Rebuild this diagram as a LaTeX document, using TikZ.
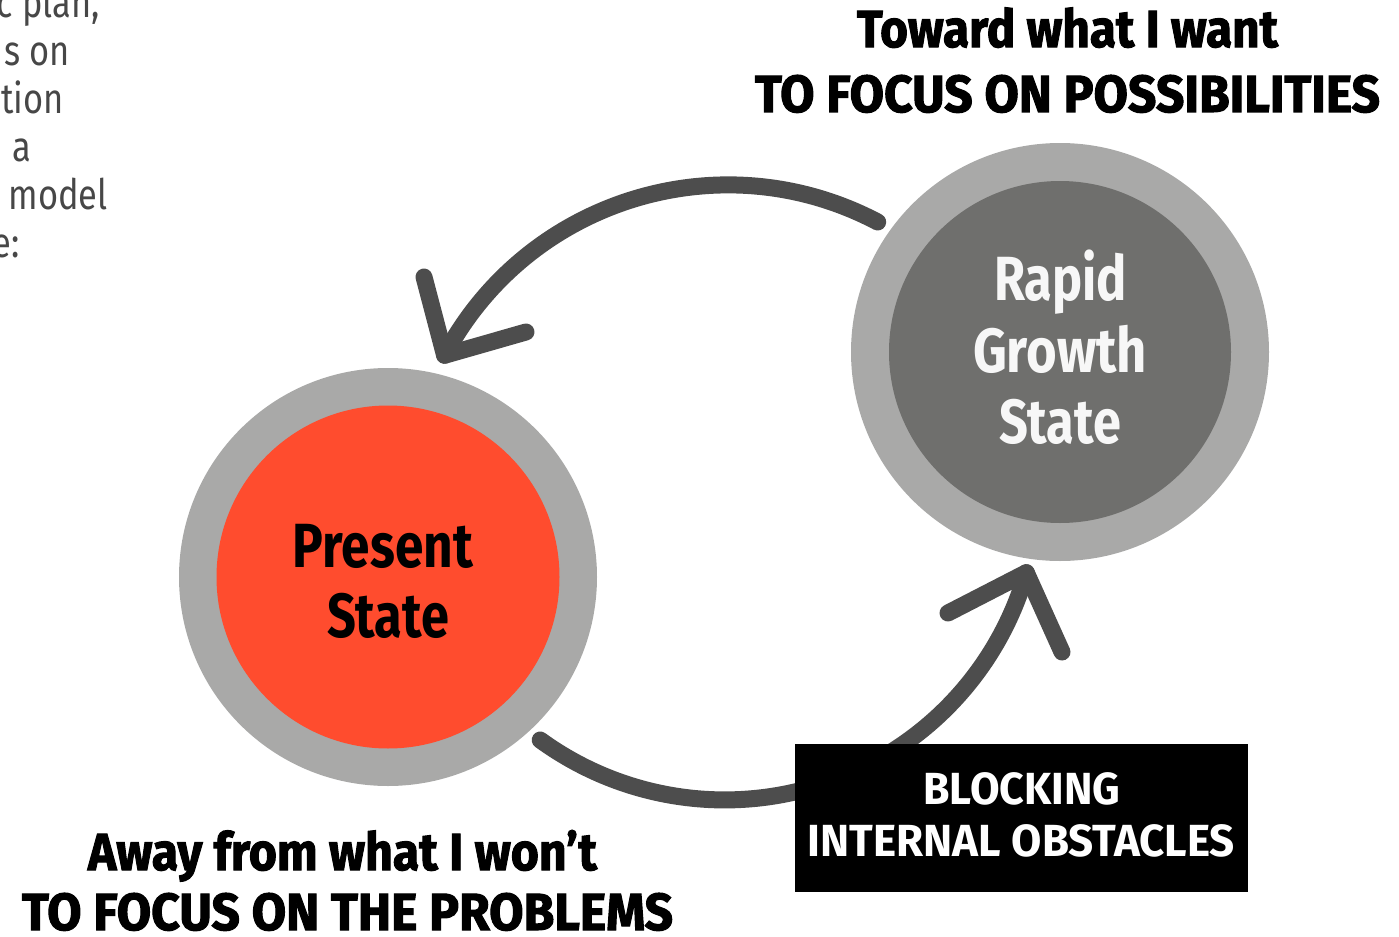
\documentclass[tikz,border=0pt]{standalone}
\usepackage{fontspec}
\setmainfont{Fira Sans}
\newfontfamily\heavyfont{Fira Sans Bold}[FakeBold=2]
\usepackage{graphicx}
\definecolor{ringgray}{HTML}{A9A9A8}
\definecolor{presentred}{HTML}{FF4C2E}
\definecolor{growthgray}{HTML}{6F6F6D}
\definecolor{arrowgray}{HTML}{4D4D4D}
\definecolor{sidegray}{HTML}{474747}
\definecolor{softwhite}{HTML}{F7F7F7}
\newcommand{\fitw}[3]{\resizebox{#1}{\height}{\fontsize{#2}{#2}\selectfont\bfseries #3}}
\newcommand{\fith}[3]{\resizebox{#1}{\height}{\fontsize{#2}{#2}\selectfont\heavyfont #3}}
\newcommand{\sidetxt}[1]{\scalebox{0.82}[1]{\fontsize{21}{21}\selectfont #1}}
\begin{document}
\begin{tikzpicture}[x=0.5pt,y=-0.5pt,
  outerring/.style={circle,fill=ringgray,draw=none,inner sep=0pt,minimum size=209pt},
  redcore/.style={circle,fill=presentred,draw=none,inner sep=0pt,minimum size=171.5pt},
  graycore/.style={circle,fill=growthgray,draw=none,inner sep=0pt,minimum size=171pt},
  lbl/.style={anchor=base,inner sep=0pt},
  arrowline/.style={draw=arrowgray,line width=8.5pt,line cap=round,line join=round},
  sidetext/.style={anchor=base east,inner sep=0pt,text=sidegray}]
\useasboundingbox (0,0) rectangle (1399,937);
\clip (0,0) rectangle (1399,937);

% side paragraph fragments (clipped at the left edge)
\node[sidetext] (s1) at (100,18) {\sidetxt{c plan,}};
\node[sidetext] (s2) at (70,65) {\sidetxt{s on}};
\node[sidetext] (s3) at (64,113) {\sidetxt{tion}};
\node[sidetext] (s4) at (32,161) {\sidetxt{a}};
\node[sidetext] (s5) at (108,209) {\sidetxt{model}};
\node[sidetext] (s6) at (20,257) {\sidetxt{e:}};

% circles
\node[outerring] (pso) at (388,577) {};
\node[redcore] (psi) at (388,577) {};
\node[outerring] (rgo) at (1060,352) {};
\node[graycore] (rgi) at (1060,352) {};

% circle labels
\node[lbl] (p1) at (383,567) {\fitw{90pt}{31.2pt}{Present}};
\node[lbl] (p2) at (388,637) {\fitw{61pt}{31.2pt}{State}};
\node[lbl,text=softwhite] (r1) at (1060.5,300) {\fitw{66.5pt}{31.2pt}{Rapid}};
\node[lbl,text=softwhite] (r2) at (1060,372) {\fitw{87pt}{31.2pt}{Growth}};
\node[lbl,text=softwhite] (r3) at (1060,443) {\fitw{61pt}{31.2pt}{State}};

% top arrow: from growth state back to present state
\coordinate (a1s) at (877.7,222);
\coordinate (a1v) at (444.6,355.3);
\coordinate (a1l) at (424,277);
\coordinate (a1r) at (526,332);
\draw[arrowline] (a1s) arc[start angle=-62.2, end angle=-152, radius=321];
\draw[arrowline] (a1l) -- (a1v) -- (a1r);

% bottom arrow: from present state to growth state
\coordinate (a2s) at (540.2,740);
\coordinate (a2v) at (1026.3,572.7);
\coordinate (a2l) at (948,613);
\coordinate (a2r) at (1062,652);
\draw[arrowline] (a2s) arc[start angle=126, end angle=16, radius=313.8];
\draw[arrowline] (a2l) -- (a2v) -- (a2r);

% blocking box
\node[fill=black,draw=none,inner sep=0pt,minimum width=226.5pt,minimum height=74pt] (box) at (1021.5,818) {};
\node[lbl,text=white] (b1) at (1022,804) {\fitw{98.5pt}{22.5pt}{BLOCKING}};
\node[lbl,text=white] (b2) at (1021.5,856) {\fitw{213.5pt}{22.5pt}{INTERNAL OBSTACLES}};

% headings
\node[lbl] (t1) at (1067.5,47) {\fith{210.5pt}{26.1pt}{Toward what I want}};
\node[lbl] (t2) at (1067.5,112) {\fith{312.5pt}{26.1pt}{TO FOCUS ON POSSIBILITIES}};
\node[lbl] (u1) at (342.5,870) {\fith{254.5pt}{26.1pt}{Away from what I won’t}};
\node[lbl] (u2) at (347.5,930) {\fith{325.5pt}{26.1pt}{TO FOCUS ON THE PROBLEMS}};
\end{tikzpicture}
\end{document}
